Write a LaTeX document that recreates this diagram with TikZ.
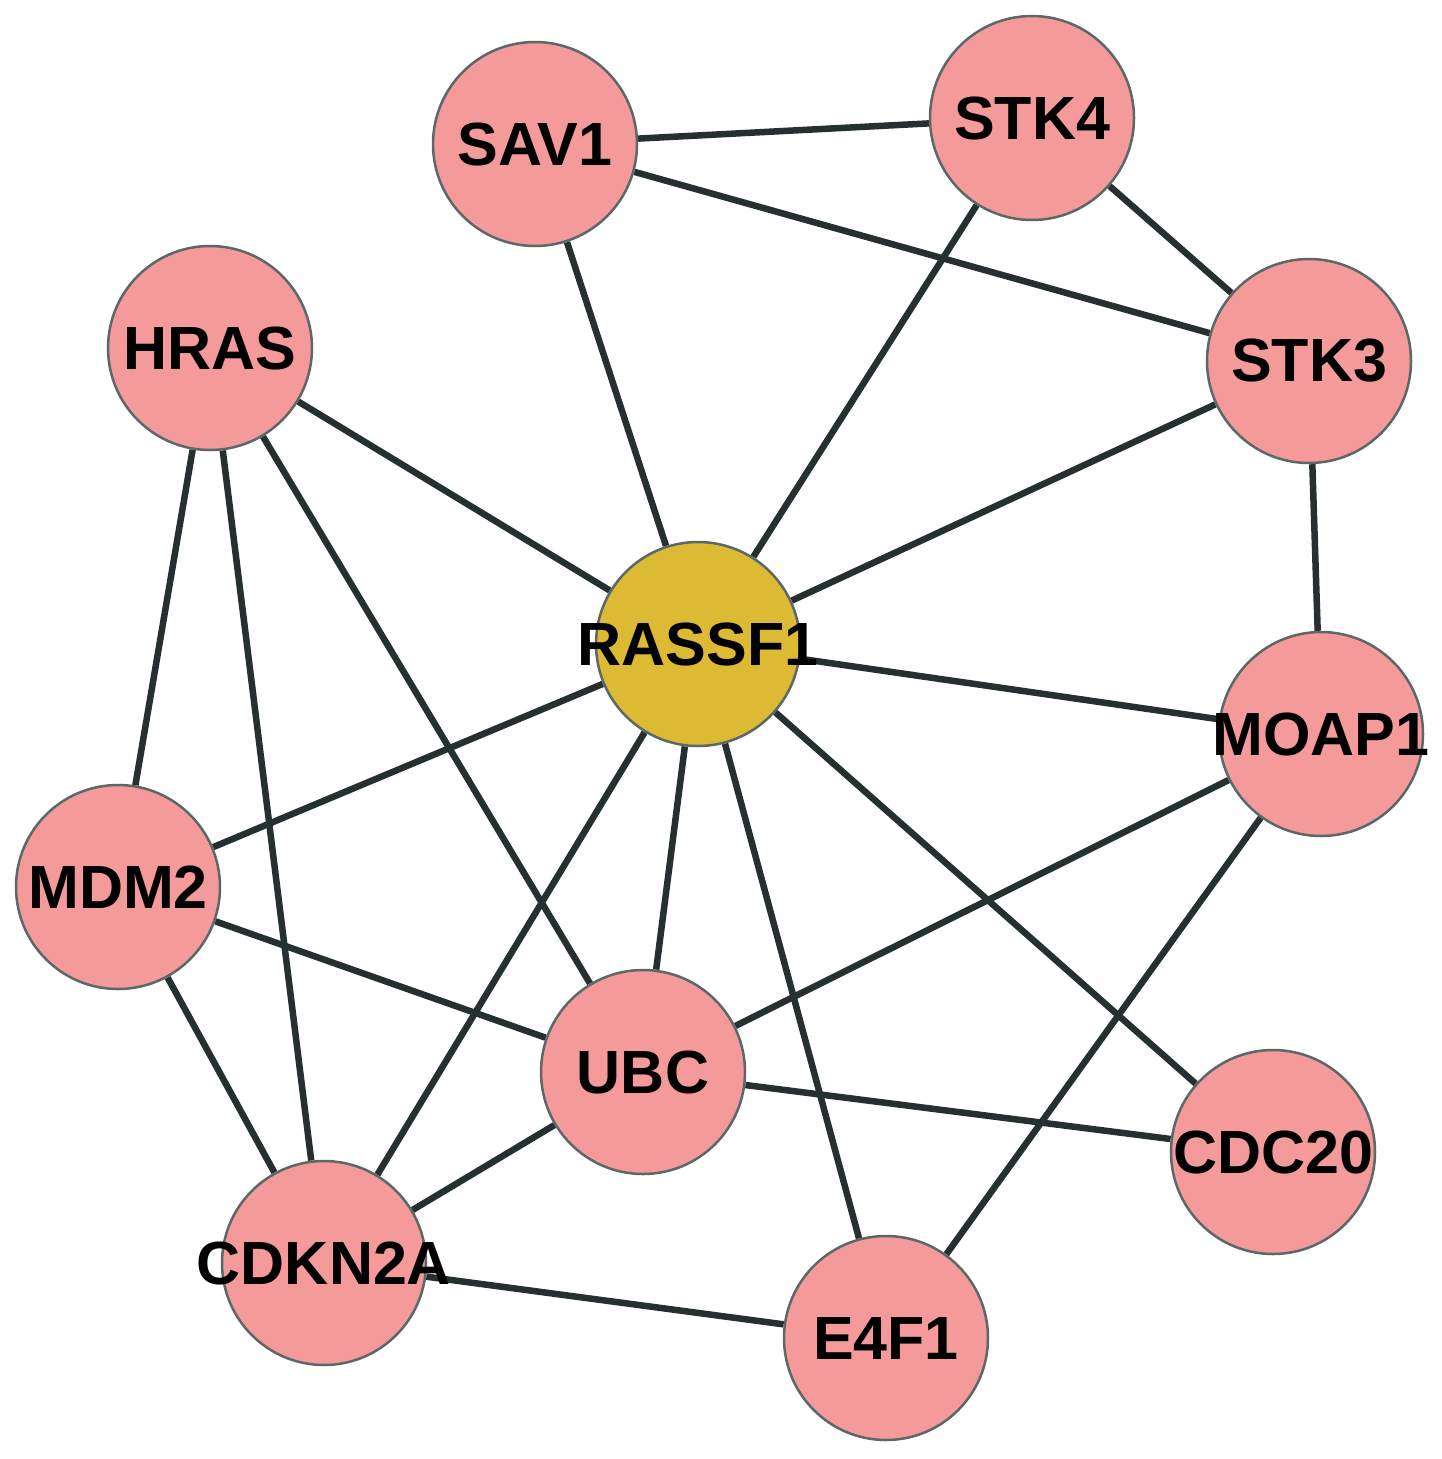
\documentclass[tikz,border=0pt]{standalone}
\usepackage{fontspec}
\setmainfont{Liberation Sans}
\usetikzlibrary{backgrounds}
\definecolor{genepink}{HTML}{F49A9B}
\definecolor{hubyellow}{HTML}{DDBA33}
\definecolor{rimgray}{HTML}{5C6868}
\definecolor{edgegray}{HTML}{263030}
\tikzset{
  gene/.style={circle, draw=rimgray, line width=2.5pt, fill=genepink,
    minimum size=204pt, inner sep=0pt,
    label={[font=\fontsize{61}{68}\selectfont\bfseries, text=black, inner sep=0pt]center:#1}},
  hub/.style={gene=#1, fill=hubyellow},
  link/.style={draw=edgegray, line width=6.5pt}
}
\begin{document}
\begin{tikzpicture}[x=1pt, y=-1pt]
\useasboundingbox (0,0) rectangle (1441,1459);
\node[gene=SAV1]   (sav1)   at (535,144)  {};
\node[gene=STK4]   (stk4)   at (1032,118) {};
\node[gene=STK3]   (stk3)   at (1309,361) {};
\node[gene=HRAS]   (hras)   at (210,348)  {};
\node[hub=RASSF1]  (rassf1) at (698,644)  {};
\node[gene=MOAP1]  (moap1)  at (1321,734) {};
\node[gene=MDM2]   (mdm2)   at (118,887)  {};
\node[gene=UBC]    (ubc)    at (643,1072) {};
\node[gene=CDC20]  (cdc20)  at (1273,1152) {};
\node[gene=CDKN2A] (cdkn2a) at (324,1263) {};
\node[gene=E4F1]   (e4f1)   at (886,1338) {};
\begin{pgfonlayer}{background}
\fill[white] (0,0) rectangle (1441,1459);
\path[link] (sav1) -- (stk4);
\path[link] (sav1) -- (stk3);
\path[link] (sav1) -- (rassf1);
\path[link] (stk4) -- (stk3);
\path[link] (stk4) -- (rassf1);
\path[link] (stk3) -- (rassf1);
\path[link] (stk3) -- (moap1);
\path[link] (hras) -- (rassf1);
\path[link] (hras) -- (mdm2);
\path[link] (hras) -- (cdkn2a);
\path[link] (hras) -- (ubc);
\path[link] (rassf1) -- (moap1);
\path[link] (rassf1) -- (mdm2);
\path[link] (rassf1) -- (ubc);
\path[link] (rassf1) -- (cdkn2a);
\path[link] (rassf1) -- (e4f1);
\path[link] (rassf1) -- (cdc20);
\path[link] (moap1) -- (ubc);
\path[link] (moap1) -- (e4f1);
\path[link] (mdm2) -- (ubc);
\path[link] (mdm2) -- (cdkn2a);
\path[link] (ubc) -- (cdc20);
\path[link] (ubc) -- (cdkn2a);
\path[link] (cdkn2a) -- (e4f1);
\end{pgfonlayer}
\end{tikzpicture}
\end{document}
